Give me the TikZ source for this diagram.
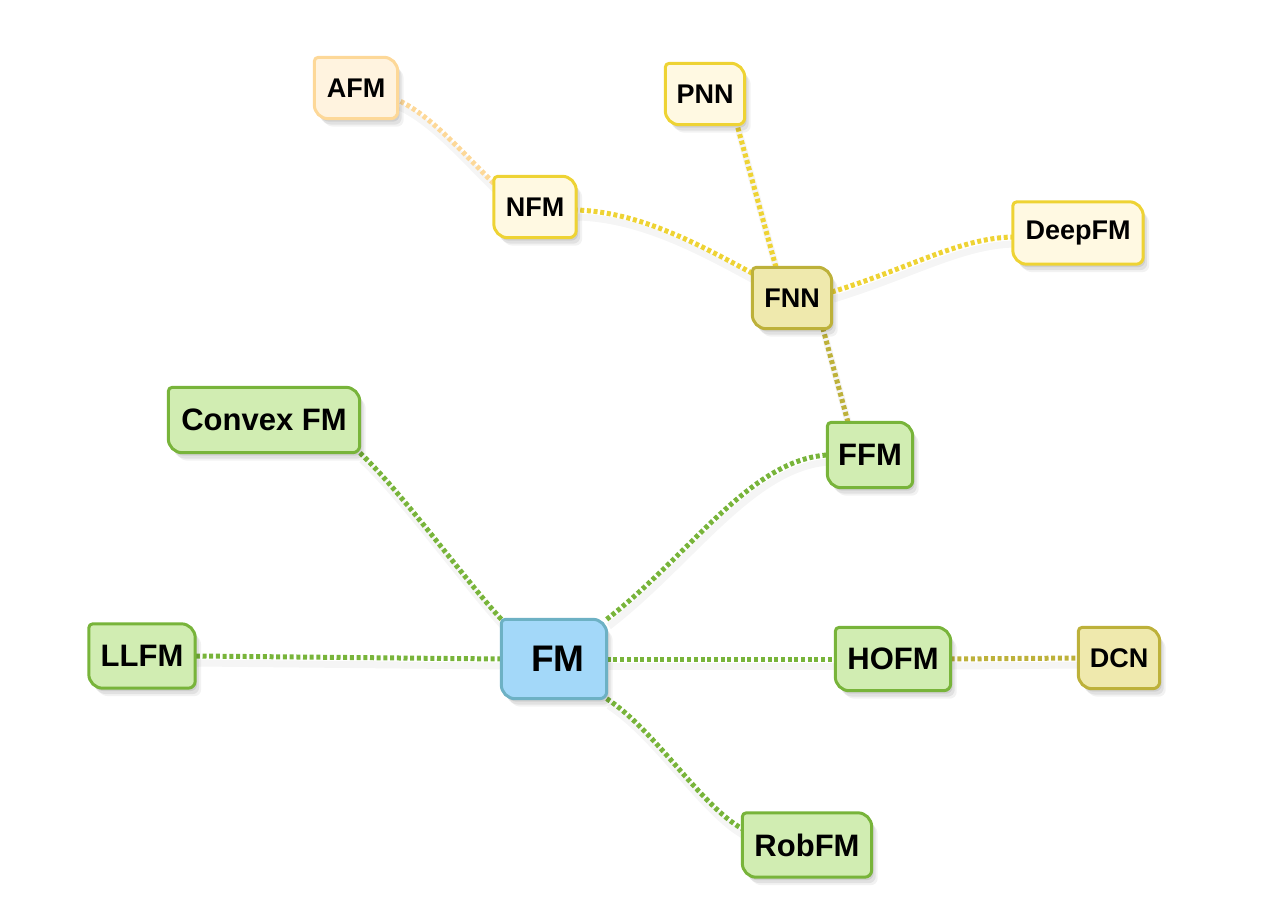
\documentclass[tikz,border=0pt]{standalone}
\usepackage{fontspec}
\setmainfont{Liberation Sans}
\usetikzlibrary{calc}
\definecolor{gfill}{HTML}{D1EDB2}
\definecolor{gline}{HTML}{78B43A}
\definecolor{bfill}{HTML}{A3D8F9}
\definecolor{bline}{HTML}{6DB1C4}
\definecolor{ofill}{HTML}{EFE9AD}
\definecolor{oline}{HTML}{BDB13A}
\definecolor{yfill}{HTML}{FFF9E2}
\definecolor{yline}{HTML}{EED334}
\definecolor{afill}{HTML}{FFF3DF}
\definecolor{aline}{HTML}{FDD898}
\pgfdeclarelayer{edges}
\pgfdeclarelayer{shapes}
\pgfsetlayers{edges,shapes,main}
\tikzset{
  mm/.style={rectangle, inner sep=0pt, font=\bfseries\fontsize{27}{30}\selectfont},
  big/.style={font=\bfseries\fontsize{31}{34}\selectfont},
  link/.style={line width=5pt, dash pattern=on 4pt off 2.7pt,
    preaction={draw=black, solid, opacity=0.04, line width=7pt, transform canvas={xshift=2pt,yshift=-7pt}}},
  leafshape/.style={line width=3pt,
    preaction={fill=black, opacity=0.05, transform canvas={xshift=6pt,yshift=-8pt}},
    preaction={fill=black, opacity=0.07, transform canvas={xshift=4pt,yshift=-6pt}},
    preaction={fill=black, opacity=0.08, transform canvas={xshift=2pt,yshift=-3pt}}}
}
\newcommand\leafbox[3]{%
  \path[leafshape, fill=#2, draw=#3]
    ($(#1.north west)+(4,0)$) -- ($(#1.north east)+(-14,0)$)
    .. controls ($(#1.north east)+(-6.3,0)$) and ($(#1.north east)+(0,6.3)$) .. ($(#1.north east)+(0,14)$)
    -- ($(#1.south east)+(0,-7)$)
    .. controls ($(#1.south east)+(0,-3.1)$) and ($(#1.south east)+(-3.1,0)$) .. ($(#1.south east)+(-7,0)$)
    -- ($(#1.south west)+(14,0)$)
    .. controls ($(#1.south west)+(6.3,0)$) and ($(#1.south west)+(0,-6.3)$) .. ($(#1.south west)+(0,-14)$)
    -- ($(#1.north west)+(0,4)$)
    .. controls ($(#1.north west)+(0,1.8)$) and ($(#1.north west)+(1.8,0)$) .. ($(#1.north west)+(4,0)$) -- cycle;}
\begin{document}
\begin{tikzpicture}[x=1pt,y=-1pt]
\useasboundingbox (0,0) rectangle (1264,912);
% nodes
\node[mm, minimum width=83, minimum height=61] (afm) at (356,88) {AFM};
\node[mm, minimum width=82, minimum height=61] (nfm) at (535,207) {NFM};
\node[mm, minimum width=79, minimum height=61] (pnn) at (705,94) {PNN};
\node[mm, minimum width=130, minimum height=62] (deepfm) at (1078,233) {DeepFM};
\node[mm, minimum width=79, minimum height=61] (fnn) at (792,298) {FNN};
\node[mm, big, minimum width=85, minimum height=65] (ffm) at (870,455) {FFM};
\node[mm, big, minimum width=191, minimum height=65] (convex) at (264,420) {Convex FM};
\node[mm, big, minimum width=106, minimum height=64] (llfm) at (142,656) {LLFM};
\node[mm, font=\bfseries\fontsize{37}{40}\selectfont, minimum width=105, minimum height=79] (fm) at (554,659) {\hspace*{8pt}FM};
\node[mm, big, minimum width=115, minimum height=63] (hofm) at (893,659) {HOFM};
\node[mm, minimum width=81, minimum height=61] (dcn) at (1119,658) {DCN};
\node[mm, big, minimum width=129, minimum height=64] (robfm) at (807,845) {RobFM};
% shapes
\begin{pgfonlayer}{shapes}
\foreach \n/\f/\d in {afm/afill/aline, nfm/yfill/yline, pnn/yfill/yline, deepfm/yfill/yline,
  fnn/ofill/oline, dcn/ofill/oline, ffm/gfill/gline, convex/gfill/gline, llfm/gfill/gline,
  hofm/gfill/gline, robfm/gfill/gline, fm/bfill/bline}
  {\leafbox{\n}{\f}{\d}}
\end{pgfonlayer}
% connectors
\begin{pgfonlayer}{edges}
\draw[link, gline] (fm.north west) .. controls (465,580) and (400,490) .. (convex.south east);
\draw[link, gline] (fm.west) -- (llfm.east);
\draw[link, gline] (fm.north east) .. controls (690,555) and (750,460) .. (ffm.west);
\draw[link, gline] (fm.east) -- (hofm.west);
\draw[link, gline] (fm.south east) .. controls (655,730) and (700,805) .. ($(robfm.north west)+(0,16)$);
\draw[link, oline] (hofm.east) -- (dcn.west);
\draw[link, oline] ($(ffm.north)+(-22,0)$) -- ($(fnn.south)+(31,0)$);
\draw[link, yline] ($(fnn.north west)+(0,6)$) .. controls (700,245) and (640,212) .. ($(nfm.east)+(0,3)$);
\draw[link, yline] ($(fnn.north)+(-16,0)$) -- ($(pnn.south)+(32,0)$);
\draw[link, yline] ($(fnn.east)+(0,-6)$) .. controls (910,268) and (960,238) .. ($(deepfm.west)+(0,4)$);
\draw[link, aline] ($(nfm.north west)+(0,7)$) .. controls (460,150) and (430,115) .. ($(afm.east)+(0,12)$);
\end{pgfonlayer}
\end{tikzpicture}
\end{document}
